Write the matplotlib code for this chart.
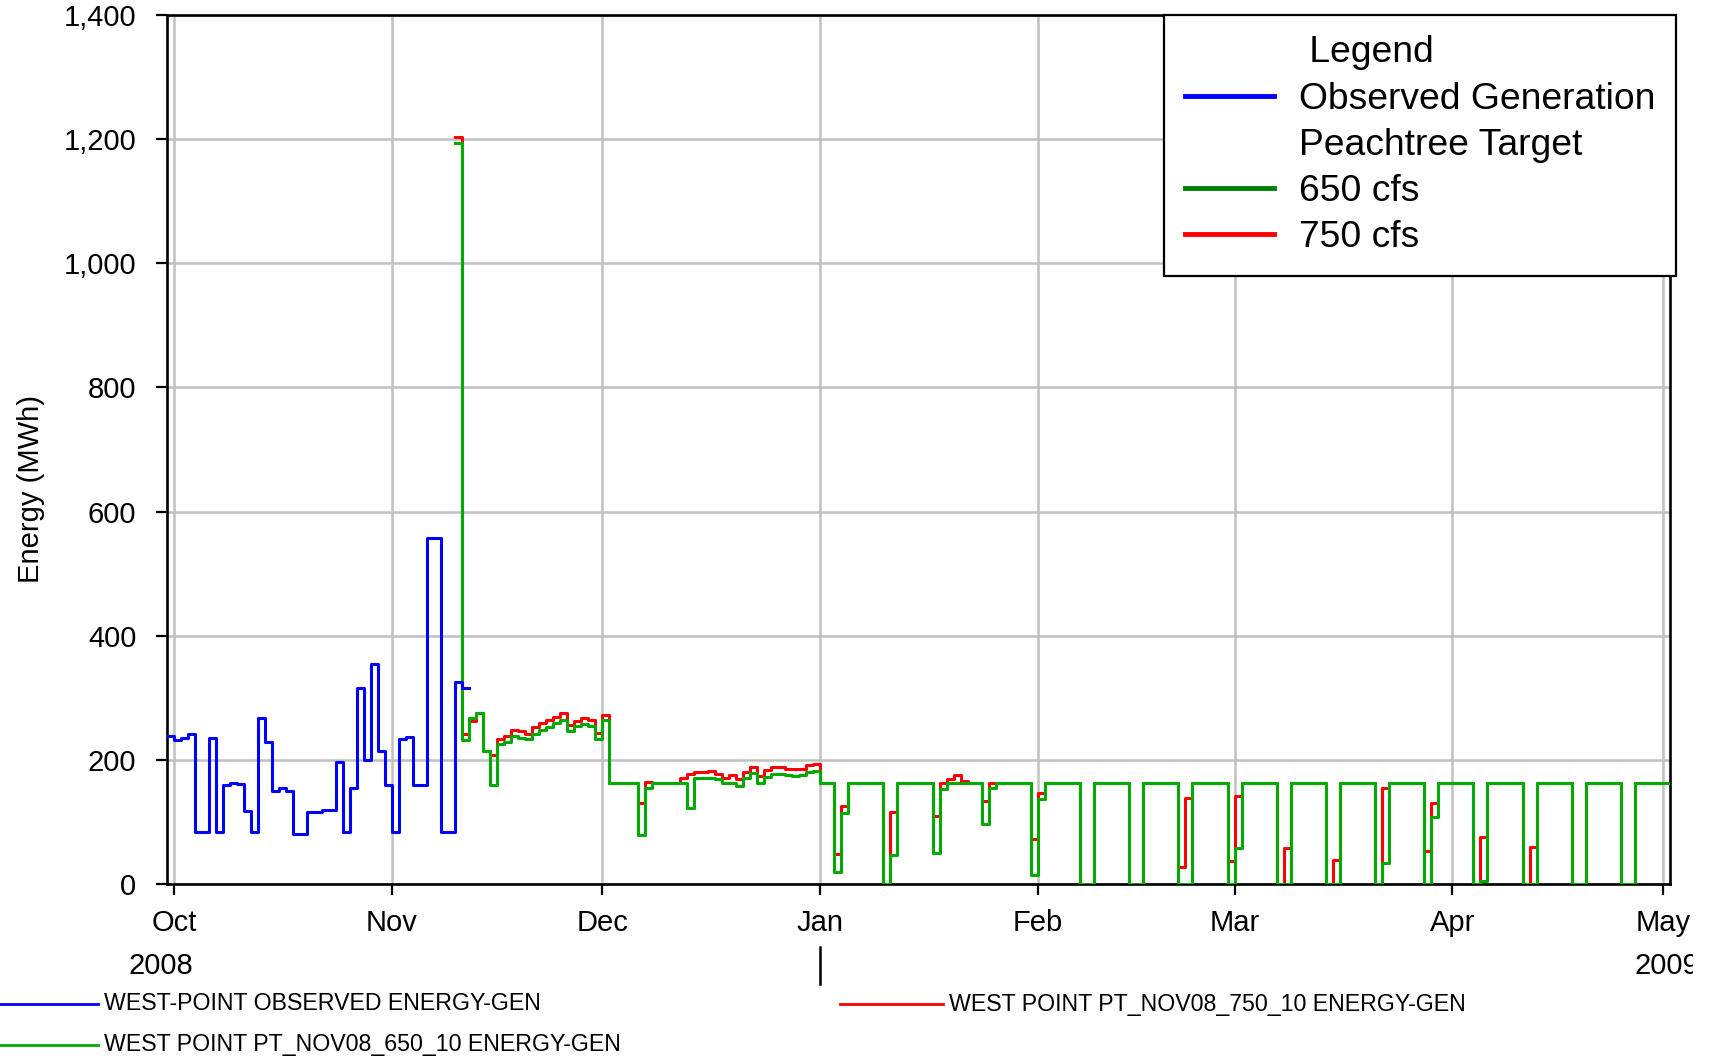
import matplotlib
matplotlib.use("Agg")

import pandas as pd
import matplotlib.pyplot as plt
import matplotlib.dates as mdates
from matplotlib import font_manager
from matplotlib.lines import Line2D
from matplotlib.ticker import FuncFormatter, MultipleLocator
from matplotlib.transforms import Bbox, TransformedBbox


# daily values (MWh), each value holds for one day
obs_start = "2008-09-30"
obs_energy = [
    238,
    # Oct
    232, 235, 242, 83, 83, 235, 83, 159, 162, 161, 117, 83, 267, 228, 150, 155,
    150, 80, 80, 116, 116, 120, 120, 196, 83, 154, 315, 200, 355, 215, 160,
    # Nov 1 - 11
    83, 234, 237, 159, 159, 557, 557, 83, 83, 326, 315,
]

sim_start = "2008-11-10"
energy_650 = [
    # Nov 10 - 30
    1194, 232, 268, 276, 214, 160, 225, 229, 238, 235, 233, 242, 248, 253, 259,
    265, 247, 254, 257, 254, 234,
    # Dec
    264, 162, 162, 162, 162, 79, 155, 162, 162, 162, 162, 162, 123, 170, 170,
    171, 169, 163, 162, 158, 170, 179, 162, 172, 178, 178, 175, 174, 176, 180, 182,
    # Jan
    162, 162, 19, 115, 162, 162, 162, 162, 162, 0, 46, 162, 162, 162, 162, 162,
    50, 153, 163, 162, 162, 162, 162, 96, 155, 162, 162, 162, 162, 162, 14,
    # Feb
    137, 162, 162, 162, 162, 162, 0, 0, 162, 162, 162, 162, 162, 0, 0,
    162, 162, 162, 162, 162, 0, 0, 162, 162, 162, 162, 162, 0,
    # Mar
    58, 162, 162, 162, 162, 162, 0, 0, 162, 162, 162, 162, 162, 0, 0, 162,
    162, 162, 162, 162, 0, 34, 162, 162, 162, 162, 162, 0, 108, 162, 162,
    # Apr
    162, 162, 162, 0, 5, 162, 162, 162, 162, 162, 0, 0, 162, 162, 162,
    162, 162, 0, 0, 162, 162, 162, 162, 162, 0, 0, 162, 162, 162, 162,
    # May 1
    162,
]
energy_750 = [
    # Nov 10 - 30
    1203, 241, 262, 276, 214, 208, 234, 239, 248, 246, 242, 253, 259, 264, 269,
    275, 256, 262, 267, 264, 243,
    # Dec
    273, 162, 162, 162, 162, 130, 165, 162, 162, 162, 162, 171, 178, 180, 181,
    182, 178, 170, 175, 169, 180, 189, 174, 183, 189, 188, 186, 185, 186, 192, 193,
    # Jan
    162, 162, 48, 125, 162, 162, 162, 162, 162, 0, 116, 162, 162, 162, 162, 162,
    110, 162, 169, 176, 166, 162, 162, 133, 163, 162, 162, 162, 162, 162, 72,
    # Feb
    146, 162, 162, 162, 162, 162, 0, 0, 162, 162, 162, 162, 162, 0, 0,
    162, 162, 162, 162, 162, 27, 139, 162, 162, 162, 162, 162, 37,
    # Mar
    142, 162, 162, 162, 162, 162, 0, 58, 162, 162, 162, 162, 162, 0, 39, 162,
    162, 162, 162, 162, 0, 154, 162, 162, 162, 162, 162, 53, 130, 162, 162,
    # Apr
    162, 162, 162, 0, 76, 162, 162, 162, 162, 162, 0, 60, 162, 162, 162,
    162, 162, 0, 0, 162, 162, 162, 162, 162, 0, 0, 162, 162, 162, 162,
    # May 1
    162,
]

legend_labels = [" Legend", "Observed Generation", "Peachtree Target", "650 cfs", "750 cfs"]
series_names = [
    "WEST-POINT OBSERVED ENERGY-GEN",
    "WEST POINT PT_NOV08_650_10 ENERGY-GEN",
    "WEST POINT PT_NOV08_750_10 ENERGY-GEN",
]

W, H = 1710, 1056


def step_xy(start, values):
    # one extra date so the last day is drawn as a full step
    days = pd.date_range(start, periods=len(values) + 1, freq="D")
    return days, list(values) + [values[-1]]


def fx(px):
    return px / W


def fy(px):
    return 1 - px / H


plt.rcParams["font.family"] = ["Liberation Sans", "DejaVu Sans"]

names = {f.name for f in font_manager.fontManager.ttflist}
if "Liberation Sans Narrow" in names:
    small_font, small_size = ["Liberation Sans Narrow", "Liberation Sans"], 20.5
else:
    small_font, small_size = ["Liberation Sans", "DejaVu Sans"], 16.7

fig = plt.figure(figsize=(W / 100, H / 100), dpi=100)
ax = fig.add_axes([fx(167), fy(884), fx(1670 - 167), (884 - 15) / H])

blue = "#0000ff"
green = "#00aa00"
red = "#ff0000"

x, y = step_xy(sim_start, energy_750)
ax.plot(x, y, drawstyle="steps-post", color=red, lw=2.2, zorder=3)
x, y = step_xy(sim_start, energy_650)
ax.plot(x, y, drawstyle="steps-post", color=green, lw=2.2, zorder=4)
x, y = step_xy(obs_start, obs_energy)
ax.plot(x, y, drawstyle="steps-post", color=blue, lw=2.2, zorder=5)

ax.set_xlim(pd.Timestamp("2008-09-30"), pd.Timestamp("2009-05-02"))
ax.set_ylim(0, 1400)
ax.xaxis.set_major_locator(mdates.MonthLocator())
ax.xaxis.set_major_formatter(mdates.DateFormatter("%b"))
ax.yaxis.set_major_locator(MultipleLocator(200))
ax.yaxis.set_major_formatter(FuncFormatter(lambda v, p: f"{v:,.0f}"))

ax.grid(True, color="#c0c0c0", lw=1.8)
ax.set_axisbelow(True)
for s in ax.spines.values():
    s.set_color("black")
    s.set_linewidth(1.9)

ax.tick_params(axis="both", direction="out", length=8, width=1.6,
               labelsize=21, colors="black")
ax.tick_params(axis="y", pad=14)
ax.tick_params(axis="x", pad=10)

ax.set_ylabel("Energy (MWh)", fontsize=21)
ax.yaxis.set_label_coords(-0.081, 0.4545)

# year labels and the year break mark under Jan
fig.text(fx(161), fy(966), "2008", fontsize=21, ha="center", va="center")
t = fig.text(fx(1634), fy(966), "2009", fontsize=21, ha="left", va="center")
t.set_clip_box(TransformedBbox(Bbox([[0, 0], [fx(1693), 1]]), fig.transFigure))
t.set_clip_on(True)

jan = mdates.date2num(pd.Timestamp("2009-01-01"))
ax.plot([jan, jan], [(884 - 947) / 869, (884 - 984) / 869], color="black",
        lw=1.8, transform=ax.get_xaxis_transform(), clip_on=False)

# legend box in the upper right
handles = [
    Line2D([], [], color="none"),
    Line2D([], [], color=blue, lw=3.5),
    Line2D([], [], color="none"),
    Line2D([], [], color="#008000", lw=3.5),
    Line2D([], [], color=red, lw=3.5),
]
leg = ax.legend(handles, legend_labels, loc="upper right",
                bbox_to_anchor=(fx(1676), fy(15)), bbox_transform=fig.transFigure,
                borderaxespad=0, fontsize=26.8, handlelength=2.4,
                handletextpad=0.68, labelspacing=0.3, borderpad=0.55,
                fancybox=False, framealpha=1, edgecolor="black")
leg.get_frame().set_linewidth(1.6)
leg.set_zorder(10)

# series names under the chart
rows = [(0, 98, 1004, blue, series_names[0]),
        (0, 98, 1045, green, series_names[1]),
        (840, 943, 1004, red, series_names[2])]
for x0, x1, yy, col, name in rows:
    fig.add_artist(Line2D([fx(x0), fx(x1)], [fy(yy), fy(yy)], color=col, lw=2,
                          transform=fig.transFigure))
    fig.text(fx(x1 + 6), fy(yy), name, family=small_font, fontsize=small_size,
             ha="left", va="center")

fig.savefig("out.png", dpi=100)
